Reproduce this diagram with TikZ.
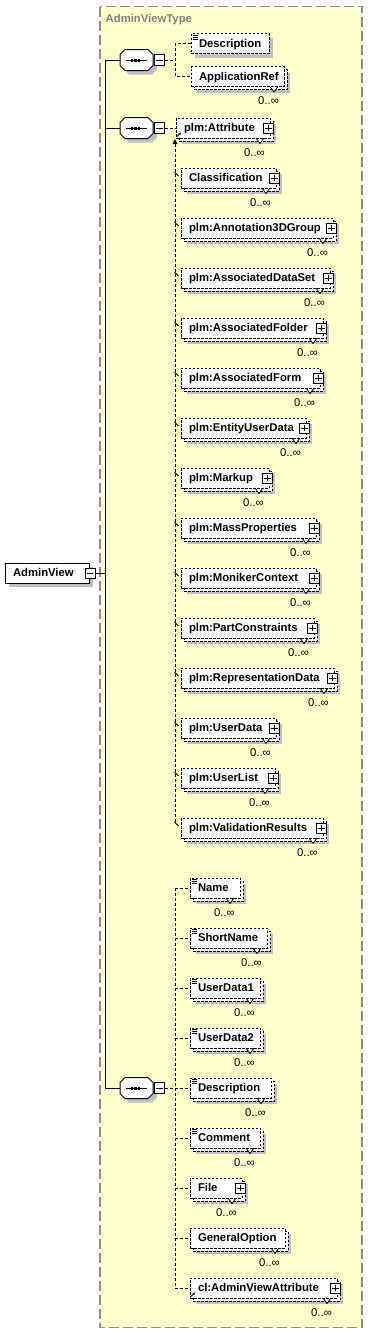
\documentclass[tikz,border=0pt]{standalone}
\usepackage{fontspec}
\setmainfont{Liberation Sans}
\usetikzlibrary{arrows.meta}
\definecolor{bgyellow}{RGB}{255,255,204}
\definecolor{shadowc}{RGB}{192,192,192}
\definecolor{framegray}{RGB}{140,140,140}
\definecolor{titlegray}{RGB}{128,128,128}
\newcommand\lblfont{\fontsize{11.3}{13}\selectfont\bfseries}
\newcommand\multfont{\fontsize{11.3}{13}\selectfont}
\tikzset{
  boxline/.style={draw=black, line width=1pt, dash pattern=on 2.5pt off 1.5pt},
  elem/.style={boxline, fill=white, inner xsep=8pt, inner ysep=0pt, minimum height=20pt, text height=7.8pt, text depth=0pt, font=\lblfont},
  solidelem/.style={elem, solid},
  conn/.style={line width=1pt, dash pattern=on 3pt off 2pt},
  trunk/.style={line width=1pt},
  multlabel/.style={font=\multfont, inner sep=0pt, anchor=base east},
  iconbox/.style={draw=black, solid, fill=white, line width=0.8pt, inner sep=0pt, minimum width=10pt, minimum height=10pt},
  tick/.style={line width=0.8pt},
}
% element box: name, x0, x1, yc, label, multi(1/0)
\newcommand\EL[6]{%
  \pgfmathsetmacro\eltw{#3-#2-16}%
  \ifnum#6=1
    \fill[shadowc] (#2+6,#4-4) rectangle (#3+6,#4+16);
    \draw[boxline, fill=white] (#2+3,#4-7) rectangle (#3+3,#4+13);
    \filldraw[fill=white, draw=black, line width=0.8pt] (#3-14,#4+10) -- (#3-10,#4+15.5) -- (#3-6,#4+10);
    \node[multlabel] (#1-n) at (#3-5,#4+28) {0..∞};
  \else
    \fill[shadowc] (#2+4,#4-6) rectangle (#3+4,#4+14);
  \fi
  \node[elem] (#1) at ({(#2+#3)/2},#4) {\makebox[\eltw pt][l]{#5}};
}
\newcommand\SIMPLEICON[1]{%
  \draw[line width=0.6pt] ([shift={(2,2)}]#1.north west) -- ++(5,0)
    ([shift={(2,4)}]#1.north west) -- ++(5,0)
    ([shift={(2,6)}]#1.north west) -- ++(5,0);}
\newcommand\PLUSICON[1]{%
  \node[iconbox] (#1-x) at ([xshift=-2pt]#1.east) {};
  \draw[line width=0.8pt] ([xshift=2pt]#1-x.west) -- ([xshift=-2pt]#1-x.east)
    ([yshift=-2pt]#1-x.north) -- ([yshift=2pt]#1-x.south);}
\newcommand\REFICON[1]{%
  \draw[line width=0.8pt, -{Stealth[length=2.5pt,width=2.5pt]}] ([shift={(1.5,-2)}]#1.south west) -- ([shift={(5.5,-6)}]#1.south west);}
\newcommand\SEQ[2]{%
  \fill[shadowc] (124,#2-1.5) -- (124,#2+9.5) -- (129,#2+14.5) -- (152,#2+14.5) -- (157,#2+9.5) -- (157,#2-1.5) -- (152,#2-6.5) -- (129,#2-6.5) -- cycle;
  \draw[line width=1pt, fill=white] (120,#2-5.5) -- (120,#2+5.5) -- (125,#2+10.5) -- (148,#2+10.5) -- (153,#2+5.5) -- (153,#2-5.5) -- (148,#2-10.5) -- (125,#2-10.5) -- cycle;
  \node[inner sep=0pt, minimum width=33pt, minimum height=21pt] (#1) at (136.5,#2) {};
  \draw[line width=1pt] ([xshift=6pt]#1.west) -- ([xshift=-6pt]#1.east);
  \foreach \sx in {132,135.5,139} \fill (\sx-1.2,#2-1.5) rectangle (\sx+1.2,#2+1.5);
  \node[iconbox, minimum height=11pt] (#1-m) at (159.3,#2) {};
  \draw[line width=0.8pt] ([xshift=2pt]#1-m.west) -- ([xshift=-2pt]#1-m.east);
}
\begin{document}
\begin{tikzpicture}[x=1pt, y=-1pt]
\fill[white] (0,0) rectangle (368,1333);
\useasboundingbox (0,0) rectangle (368,1333);
% complex type frame
\draw[draw=framegray, line width=1.2pt, dash pattern=on 10pt off 4pt, fill=bgyellow] (100,6.5) rectangle (362,1327.5);
\node[font=\lblfont, text=titlegray, anchor=base west, inner sep=0pt] (ttl) at (105.5,22.5) {AdminViewType};

% root element
\fill[shadowc] (9,567) rectangle (93,587);
\node[solidelem] (av) at (47,573) {\makebox[68pt][l]{AdminView}};
\node[iconbox] (av-m) at (90,573) {};
\draw[line width=0.8pt] ([xshift=2pt]av-m.west) -- ([xshift=-2pt]av-m.east);

% sequences
\SEQ{seqa}{60}
\SEQ{seqb}{128}
\SEQ{seqc}{1088}

\coordinate (tx) at (105,0);
\coordinate (gx) at (175,0);
\draw[trunk] (av-m.east) -- (av-m.east -| tx);
\draw[trunk] (seqa.west) -- (seqa.west -| tx) -- (seqc.west -| tx) -- (seqc.west);
\draw[trunk] (seqb.west) -- (seqb.west -| tx);

% group 1
\EL{dsa}{191}{269}{43.5}{Description}{0}
\SIMPLEICON{dsa}
\EL{apr}{191}{284}{76.5}{ApplicationRef}{1}
\draw[conn] (seqa-m.east) -- (seqa-m.east -| gx);
\draw[conn] (dsa.west) -- (dsa.west -| gx) -- (apr.west -| gx) -- (apr.west);

% group 2
\foreach \n/\xa/\xb/\lab [count=\i from 0] in {
  attr/176/270/plm:Attribute,
  cls/181/276/Classification,
  a3d/181/333/plm:Annotation3DGroup,
  ads/181/330/plm:AssociatedDataSet,
  afo/181/323/plm:AssociatedFolder,
  afm/181/320/plm:AssociatedForm,
  eud/181/306/plm:EntityUserData,
  mku/181/269/plm:Markup,
  mpr/181/316/plm:MassProperties,
  mcx/181/316/plm:MonikerContext,
  pcs/181/314/plm:PartConstraints,
  rpd/181/334/plm:RepresentationData,
  usd/181/276/plm:UserData,
  usl/181/275/plm:UserList,
  vrs/181/323/plm:ValidationResults}{
  \EL{\n}{\xa}{\xb}{128+50*\i}{\lab}{1}
  \PLUSICON{\n}
}
\REFICON{attr}
\draw[conn] (seqb-m.east) -- (attr.west);
\coordinate (sgtop) at (175,139);
\coordinate (sgbot) at (175,822);
\draw[conn, -{Triangle[length=5pt,width=4.5pt]}] (sgbot) -- (sgtop);
\foreach \n in {cls,a3d,ads,afo,afm,eud,mku,mpr,mcx,pcs,rpd,usd,usl,vrs}
  \draw[tick] ([shift={(-6,-6)}]\n.west) -- ([shift={(-2,-2)}]\n.west);

% group 3
\EL{nam}{190}{240}{888}{Name}{1}
\SIMPLEICON{nam}
\EL{snm}{190}{267}{938}{ShortName}{1}
\SIMPLEICON{snm}
\EL{uda}{190}{260}{988}{UserData1}{1}
\SIMPLEICON{uda}
\EL{udb}{190}{260}{1038}{UserData2}{1}
\SIMPLEICON{udb}
\EL{dsc}{190}{271}{1088}{Description}{1}
\SIMPLEICON{dsc}
\EL{cmt}{190}{260}{1138}{Comment}{1}
\SIMPLEICON{cmt}
\EL{fil}{190}{242}{1188}{File}{1}
\PLUSICON{fil}
\EL{gop}{190}{285}{1238}{GeneralOption}{1}
\EL{cav}{190}{337}{1288}{cl:AdminViewAttribute}{1}
\PLUSICON{cav}
\REFICON{cav}
\draw[conn] (seqc-m.east) -- (seqc-m.east -| gx);
\draw[conn] (nam.west -| gx) -- (cav.west -| gx);
\foreach \n in {nam,snm,uda,udb,dsc,cmt,fil,gop,cav}
  \draw[conn] (\n.west -| gx) -- (\n.west);
\end{tikzpicture}
\end{document}
